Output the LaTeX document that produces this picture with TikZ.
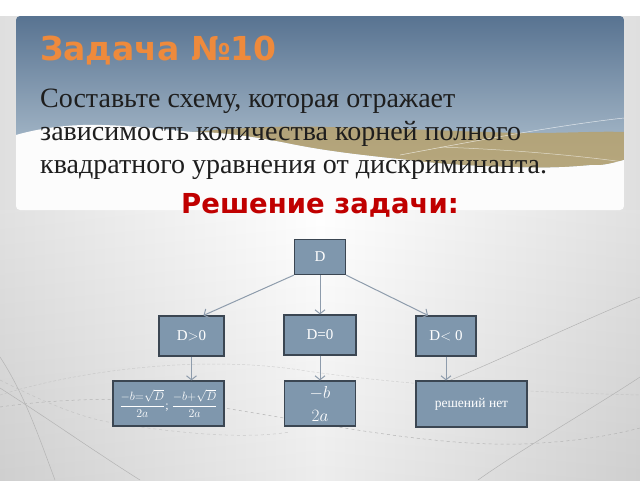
\documentclass[tikz,border=0pt]{standalone}
\usepackage{amsmath}
\usepackage{fontspec}
\setmainfont{Liberation Serif}
\newfontfamily\headfont{DejaVu Sans}
\usetikzlibrary{arrows.meta}
\definecolor{boxfill}{HTML}{7F97AD}
\definecolor{boxline}{HTML}{3B4652}
\definecolor{linkgray}{HTML}{8E9CAC}
\definecolor{decogray}{HTML}{B4B4B4}
\definecolor{bgedge}{HTML}{DFDFDF}
\definecolor{headtop}{HTML}{587391}
\definecolor{headbot}{HTML}{B2C3D1}
\definecolor{wavetan}{HTML}{B7A26E}
\definecolor{titleorange}{HTML}{EE8A3C}
\definecolor{solred}{HTML}{C00000}
\definecolor{bodyblack}{HTML}{1E1E1E}

\begin{document}
\begin{tikzpicture}[x=1pt,y=-1pt,
  box/.style={draw=boxline,fill=boxfill,line width=1.2pt,text=white,inner sep=0pt,align=center,font=\fontsize{15}{17}\selectfont},
  link/.style={draw=linkgray,line width=1pt,-{Straight Barb[length=4pt,width=10pt]}},
  deco/.style={draw=decogray,line width=0.5pt}]
\useasboundingbox (0,0) rectangle (640,480);
% background
\shade [left color=bgedge,right color=bgedge,middle color=white] (0,0) rectangle (640,480);
\shade [top color=white,bottom color=black,opacity=0.07] (0,210) rectangle (640,480);
\fill [white] (0,0) rectangle (640,16);
\draw [deco] (0,357) .. controls (25,395) and (40,440) .. (55,480);
\draw [deco] (0,388) .. controls (50,420) and (100,455) .. (140,480);
\draw [deco,dashed] (0,407) .. controls (60,398) and (160,395) .. (224,408) .. controls (330,425) and (450,450) .. (540,443) .. controls (590,440) and (620,433) .. (640,428);
\draw [deco,densely dashed,opacity=0.5] (0,395) .. controls (80,370) and (200,355) .. (300,370) .. controls (400,385) and (520,392) .. (640,395);
\draw [deco,dashed,opacity=0.6] (0,380) .. controls (40,400) and (80,418) .. (114,423) .. controls (170,432) and (240,440) .. (290,432);
\draw [deco] (640,297) .. controls (560,330) and (480,370) .. (420,392);
\draw [deco] (640,377) .. controls (590,410) and (520,450) .. (478,480);
% header
\begin{scope}
\clip [rounded corners=4pt] (16,16) rectangle (624,210);
\shade [top color=headtop,bottom color=headbot] (16,16) rectangle (624,170);
\fill [wavetan,opacity=0.85] (192,132) .. controls (260,126) and (300,126) .. (327,127) .. controls (400,128) and (490,133) .. (531,133) .. controls (570,133) and (600,131) .. (624,132) -- (624,160) .. controls (610,164) and (600,166) .. (592,165) .. controls (560,168) and (540,168) .. (510,167) .. controls (470,166) and (440,164) .. (408,160) .. controls (350,154) and (320,150) .. (286,143) .. controls (250,136) and (220,132) .. (192,132) -- cycle;
\fill [white!98!gray] (16,135) .. controls (40,128) and (70,124) .. (102,125) .. controls (140,126) and (170,130) .. (192,132) .. controls (220,132) and (250,136) .. (286,143) .. controls (320,150) and (350,154) .. (408,160) .. controls (440,164) and (470,166) .. (510,167) .. controls (540,168) and (560,168) .. (592,165) .. controls (600,166) and (610,164) .. (624,160) -- (624,210) -- (16,210) -- cycle;
\draw [white,line width=0.5pt,opacity=0.7] (400,155) .. controls (480,140) and (560,125) .. (624,118);
\draw [white,line width=0.5pt,opacity=0.6] (440,147) .. controls (520,150) and (580,156) .. (624,162);
\end{scope}
\node [anchor=base west,inner sep=0pt,text=titleorange,font=\headfont\bfseries\fontsize{33}{36}\selectfont] (title) at (40,60) {Задача №10};
\node [anchor=base west,inner sep=0pt,text=bodyblack,font=\fontsize{28}{33}\selectfont] (q1) at (40,107) {Составьте схему, которая отражает};
\node [anchor=base west,inner sep=0pt,text=bodyblack,font=\fontsize{28}{33}\selectfont] (q2) at (40,140) {зависимость количества корней полного};
\node [anchor=base west,inner sep=0pt,text=bodyblack,font=\fontsize{28}{33}\selectfont] (q3) at (40,173) {квадратного уравнения от дискриминанта.};
\node [anchor=base,inner sep=0pt,text=solred,font=\headfont\bfseries\fontsize{27.5}{30}\selectfont] (sol) at (320,213) {Решение задачи:};
% scheme
\node [box,minimum width=51,minimum height=35] (d) at (320,257) {D};
\node [box,minimum width=65,minimum height=40] (dpos) at (191.5,336) {D$>$0};
\node [box,minimum width=72,minimum height=40] (dzero) at (320,335) {D=0};
\node [box,minimum width=60,minimum height=40] (dneg) at (446,336) {D$<$ 0};
\node [box,minimum width=111,minimum height=45,font=\fontsize{12}{14}\selectfont] (r1) at (168.5,403.5) {$\dfrac{-b{=}\sqrt{D}}{2a}$; $\dfrac{-b{+}\sqrt{D}}{2a}$};
\node [box,minimum width=71,minimum height=45,font=\fontsize{17}{23}\selectfont] (r2) at (320,403.5) {$-b$\\$2a$};
\node [box,minimum width=111,minimum height=46,font=\fontsize{13.5}{15}\selectfont] (r3) at (471.5,404) {решений нет};
\draw [link] (d.south west) -- ([xshift=12]dpos.north);
\draw [link] (d) -- (dzero);
\draw [link] (d.south east) -- ([xshift=-18]dneg.north);
\draw [link] (dpos) -- (dpos |- r1.north);
\draw [link] (dzero) -- (r2);
\draw [link] (dneg) -- (dneg |- r3.north);
\end{tikzpicture}
\end{document}
